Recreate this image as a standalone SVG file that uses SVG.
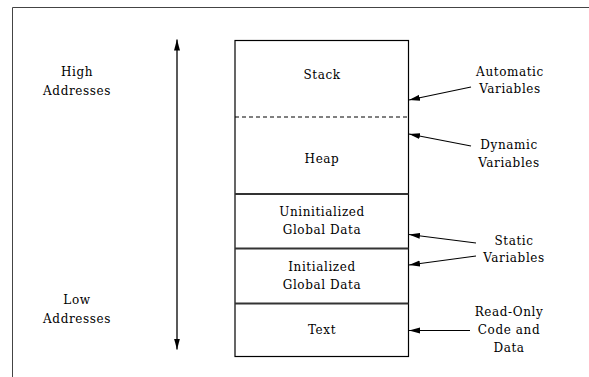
<svg xmlns="http://www.w3.org/2000/svg" width="589" height="377" viewBox="0 0 589 377">
  <style>
    .ptr { stroke: #000; stroke-width: 1.1; fill: none; marker-end: url(#tip); }
    .div { stroke: #333; stroke-width: 2; }
    .lbl { font-family: "DejaVu Serif", "Liberation Serif", serif; font-size: 12px; letter-spacing: 0.6px; fill: #000; text-anchor: middle; }
  </style>
  <defs>
    <marker id="tip" markerWidth="12" markerHeight="8" refX="11" refY="4" orient="auto-start-reverse" markerUnits="userSpaceOnUse">
      <path d="M0,1 L11,4 L0,7 z" fill="#000"/>
    </marker>
  </defs>

  <rect width="589" height="377" fill="#fff"/>

  <!-- page frame -->
  <g id="frame">
    <path d="M12.5,377 V7.5 H589" stroke="#444" stroke-width="1" fill="none"/>
  </g>

  <!-- memory layout box -->
  <g id="layout-box">
    <rect x="235" y="40.5" width="173.5" height="316" fill="#fff" stroke="#000" stroke-width="1.2"/>
    <line x1="235" y1="117" x2="408.5" y2="117" stroke="#000" stroke-width="1" stroke-dasharray="4,3"/>
    <line class="div" x1="235" y1="194" x2="408.5" y2="194"/>
    <line class="div" x1="235" y1="248.5" x2="408.5" y2="248.5"/>
    <line class="div" x1="235" y1="303.5" x2="408.5" y2="303.5"/>
  </g>

  <g id="stack"><text class="lbl" x="322" y="79">Stack</text></g>
  <g id="heap"><text class="lbl" x="322" y="163">Heap</text></g>
  <g id="uninit">
    <text class="lbl" x="322" y="216">Uninitialized</text>
    <text class="lbl" x="322" y="234">Global Data</text>
  </g>
  <g id="init">
    <text class="lbl" x="322" y="271">Initialized</text>
    <text class="lbl" x="322" y="289">Global Data</text>
  </g>
  <g id="text-seg"><text class="lbl" x="322" y="334">Text</text></g>

  <!-- address labels -->
  <g id="high">
    <text class="lbl" x="77" y="76">High</text>
    <text class="lbl" x="77" y="95">Addresses</text>
  </g>
  <g id="low">
    <text class="lbl" x="77" y="304">Low</text>
    <text class="lbl" x="77" y="323">Addresses</text>
  </g>

  <!-- variable-kind labels -->
  <g id="automatic">
    <text class="lbl" x="510" y="76">Automatic</text>
    <text class="lbl" x="510" y="93">Variables</text>
  </g>
  <g id="dynamic">
    <text class="lbl" x="509" y="149">Dynamic</text>
    <text class="lbl" x="509" y="167">Variables</text>
  </g>
  <g id="static">
    <text class="lbl" x="514" y="245">Static</text>
    <text class="lbl" x="514" y="262">Variables</text>
  </g>
  <g id="readonly">
    <text class="lbl" x="509" y="316">Read-Only</text>
    <text class="lbl" x="509" y="334">Code and</text>
    <text class="lbl" x="509" y="352">Data</text>
  </g>

  <!-- connectors -->
  <g id="connectors">
    <line x1="177" y1="39.5" x2="177" y2="349.5" stroke="#000" stroke-width="1.3" marker-start="url(#tip)" marker-end="url(#tip)"/>
    <line class="ptr" x1="471" y1="87" x2="409" y2="100"/>
    <line class="ptr" x1="471" y1="146" x2="409" y2="134"/>
    <line class="ptr" x1="476" y1="243" x2="409" y2="234.5"/>
    <line class="ptr" x1="476" y1="256" x2="409" y2="265"/>
    <line class="ptr" x1="470" y1="330.5" x2="409" y2="330.5"/>
  </g>
</svg>
